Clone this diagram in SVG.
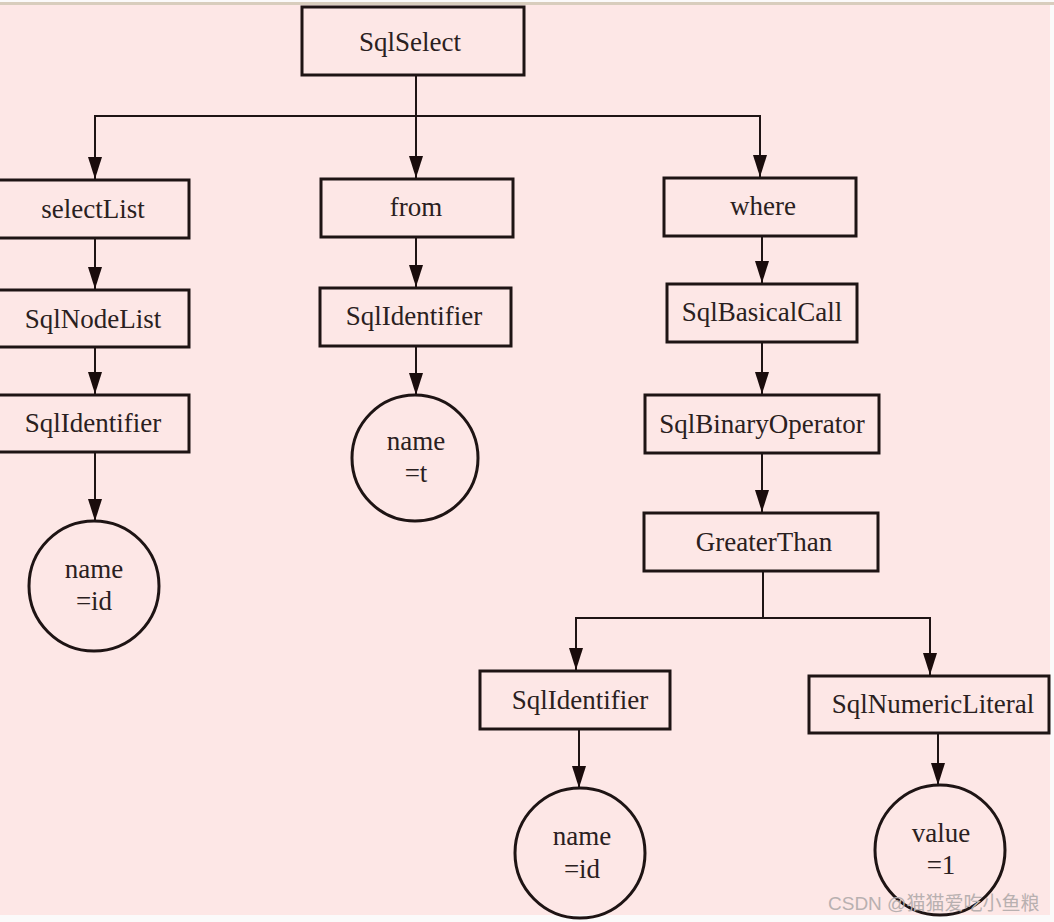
<svg xmlns="http://www.w3.org/2000/svg" width="1054" height="922" viewBox="0 0 1054 922">
<defs>
<style>
.bg{fill:#fde7e6}
.box{fill:none;stroke:#1e1414;stroke-width:3}
.circ{fill:none;stroke:#1e1414;stroke-width:3}
.lbl{font-family:"Liberation Serif","Times New Roman",serif;font-size:27px;fill:#2a2020;text-anchor:middle}
.edge{fill:none;stroke:#1e1414;stroke-width:2}
.wm{font-family:"Liberation Sans","Noto Sans CJK SC",sans-serif;font-size:19px;fill:#b8b0b0}
</style>
<marker id="arr" markerUnits="userSpaceOnUse" markerWidth="22" markerHeight="14" viewBox="0 0 22 14" refX="22" refY="7" orient="auto">
<path d="M0,0 L22,7 L0,14 z" fill="#1a0c0c"/>
</marker>
</defs>
<rect x="0" y="0" width="1054" height="922" fill="#fbfafa"/>
<rect class="bg" x="0" y="4" width="1050" height="911"/>
<rect x="0" y="2" width="1054" height="3" fill="#d8cdbd"/>

<g id="connectors">
<path class="edge" d="M416 75 V178" marker-end="url(#arr)"/>
<path class="edge" d="M416 116 H95 V179" marker-end="url(#arr)"/>
<path class="edge" d="M416 116 H760 V177" marker-end="url(#arr)"/>
<path class="edge" d="M95 238 V289" marker-end="url(#arr)"/>
<path class="edge" d="M95 347 V394" marker-end="url(#arr)"/>
<path class="edge" d="M95 452 V521" marker-end="url(#arr)"/>
<path class="edge" d="M416 237 V287" marker-end="url(#arr)"/>
<path class="edge" d="M416 346 V395" marker-end="url(#arr)"/>
<path class="edge" d="M762 236 V283" marker-end="url(#arr)"/>
<path class="edge" d="M762 342 V394" marker-end="url(#arr)"/>
<path class="edge" d="M762 453 V512" marker-end="url(#arr)"/>
<path class="edge" d="M763 571 V618 H576 V670" marker-end="url(#arr)"/>
<path class="edge" d="M763 618 H930 V675" marker-end="url(#arr)"/>
<path class="edge" d="M579 729 V788" marker-end="url(#arr)"/>
<path class="edge" d="M938 733 V785" marker-end="url(#arr)"/>
</g>

<g id="n-sqlselect"><rect class="box" x="302" y="7" width="222" height="68"/><text class="lbl" x="410" y="51">SqlSelect</text></g>
<g id="n-selectlist"><rect class="box" x="-2" y="180" width="191" height="58"/><text class="lbl" x="93" y="218">selectList</text></g>
<g id="n-from"><rect class="box" x="321" y="179" width="192" height="58"/><text class="lbl" x="416" y="216">from</text></g>
<g id="n-where"><rect class="box" x="664" y="178" width="192" height="58"/><text class="lbl" x="763" y="215">where</text></g>
<g id="n-sqlnodelist"><rect class="box" x="-2" y="290" width="191" height="57"/><text class="lbl" x="93" y="328">SqlNodeList</text></g>
<g id="n-sqlidentifier1"><rect class="box" x="-2" y="395" width="191" height="57"/><text class="lbl" x="93" y="432">SqlIdentifier</text></g>
<g id="n-name-id1"><circle class="circ" cx="94" cy="586" r="65"/><text class="lbl" x="94" y="578">name</text><text class="lbl" x="94" y="610">=id</text></g>
<g id="n-sqlidentifier2"><rect class="box" x="320" y="288" width="191" height="58"/><text class="lbl" x="414" y="325">SqlIdentifier</text></g>
<g id="n-name-t"><circle class="circ" cx="415" cy="458" r="63"/><text class="lbl" x="416" y="450">name</text><text class="lbl" x="416" y="482">=t</text></g>
<g id="n-sqlbasicalcall"><rect class="box" x="667" y="284" width="190" height="58"/><text class="lbl" x="762" y="321">SqlBasicalCall</text></g>
<g id="n-sqlbinaryoperator"><rect class="box" x="645" y="395" width="234" height="58"/><text class="lbl" x="762" y="433">SqlBinaryOperator</text></g>
<g id="n-greaterthan"><rect class="box" x="644" y="513" width="234" height="58"/><text class="lbl" x="764" y="551">GreaterThan</text></g>
<g id="n-sqlidentifier3"><rect class="box" x="480" y="671" width="190" height="58"/><text class="lbl" x="580" y="709">SqlIdentifier</text></g>
<g id="n-sqlnumericliteral"><rect class="box" x="809" y="676" width="240" height="57"/><text class="lbl" x="933" y="713">SqlNumericLiteral</text></g>
<g id="n-name-id2"><circle class="circ" cx="580" cy="853" r="65"/><text class="lbl" x="582" y="845">name</text><text class="lbl" x="582" y="878">=id</text></g>
<g id="n-value-1"><circle class="circ" cx="940" cy="850" r="65"/><text class="lbl" x="941" y="842">value</text><text class="lbl" x="941" y="874">=1</text></g>

<text class="wm" x="828" y="910">CSDN @猫猫爱吃小鱼粮</text>
</svg>
